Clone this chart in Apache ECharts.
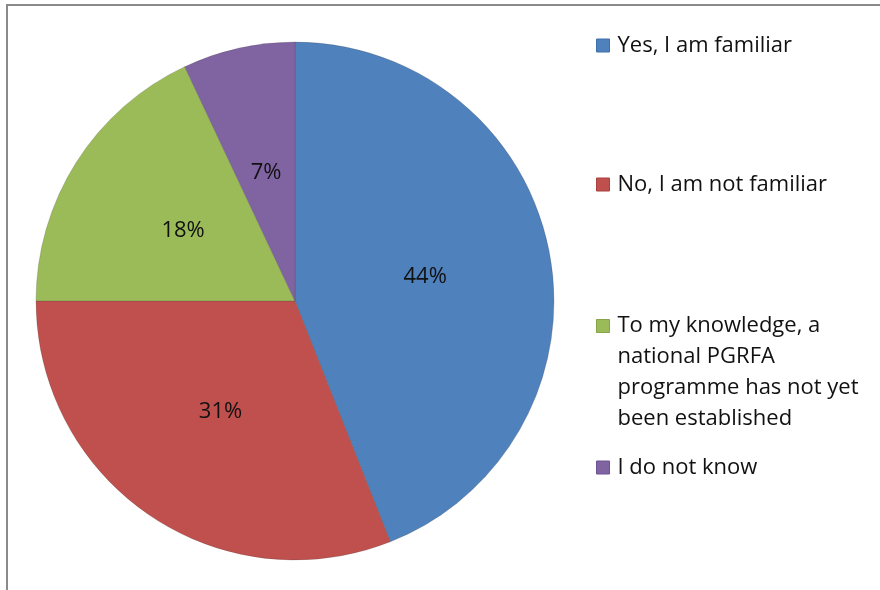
<!DOCTYPE html>
<html>
<head>
<meta charset="utf-8">
<script src="https://cdn.jsdelivr.net/npm/echarts@6/dist/echarts.min.js"></script>
<style>
  html, body { margin: 0; padding: 0; background: #fff; }
  #chart { width: 880px; height: 590px; }
</style>
</head>
<body>
<div id="chart"></div>
<script>
// Survey answers and their shares (percent)
const categories = [
  'Yes, I am familiar',
  'No, I am not familiar',
  'To my knowledge, a national PGRFA programme has not yet been established',
  'I do not know'
];
const shares = [44, 31, 18, 7];
// How each answer is broken into lines in the legend
const legendLines = [
  ['Yes, I am familiar'],
  ['No, I am not familiar'],
  ['To my knowledge, a', 'national PGRFA', 'programme has not yet', 'been established'],
  ['I do not know']
];
const colors = ['#4F81BD', '#C0504D', '#9BBB59', '#8064A2'];
const borders = ['#3E6FA8', '#A8413E', '#86A548', '#6C5290'];

const LINE_H = 31;
const FONT = '"Open Sans", Lato, sans-serif';
const legendTops = [30, 169, 217.5, 452];

const chart = echarts.init(document.getElementById('chart'), null, { renderer: 'canvas' });

// One legend block per answer so each can sit at its own height;
// extra blank lines keep the marker beside the first line of wrapped text.
const legends = categories.map((name, i) => {
  const lines = legendLines[i];
  const pad = new Array(lines.length - 1).fill('');
  return {
    data: [name],
    orient: 'vertical',
    left: 596,
    top: legendTops[i],
    padding: 0,
    icon: 'rect',
    itemWidth: 13,
    itemHeight: 13,
    itemGap: 0,
    selectedMode: false,
    itemStyle: { borderColor: borders[i], borderWidth: 1 },
    formatter: () => pad.concat(lines).join('\n'),
    textStyle: {
      fontFamily: FONT,
      fontSize: 22,
      color: '#111',
      lineHeight: LINE_H,
      padding: [0, 0, 0, 3]
    }
  };
});

chart.setOption({
  animation: false,
  backgroundColor: '#fff',
  color: colors,
  legend: legends,
  graphic: [{
    type: 'rect',
    silent: true,
    shape: { x: 7, y: 5, width: 900, height: 600 },
    style: { fill: 'none', stroke: '#8a8a8a', lineWidth: 2 }
  }],
  series: [{
    type: 'pie',
    center: [295, 301],
    radius: 259,
    startAngle: 90,
    clockwise: true,
    silent: true,
    label: {
      show: true,
      position: 'inside',
      formatter: '{c}%',
      fontFamily: FONT,
      fontSize: 22,
      color: '#111',
      offset: [0, 1]
    },
    labelLine: { show: false },
    itemStyle: { borderColor: 'rgba(60,60,60,0.35)', borderWidth: 0.6 },
    data: categories.map((name, i) => ({ name: name, value: shares[i] }))
  }]
});
</script>
</body>
</html>
